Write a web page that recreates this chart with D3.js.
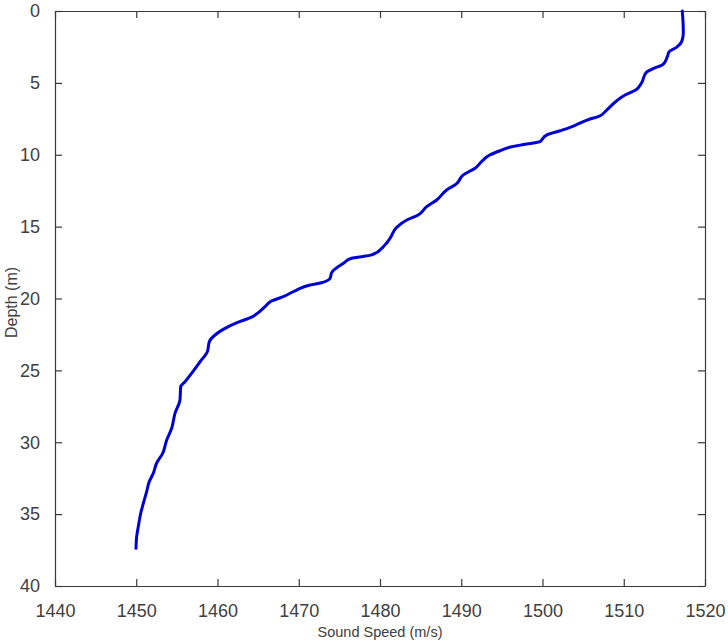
<!DOCTYPE html>
<html><head><meta charset="utf-8">
<script src="https://cdn.jsdelivr.net/npm/d3@7"></script>
<style>body{margin:0;background:#fff;} svg{display:block;}</style>
</head><body>
<svg id="chart" width="728" height="642"></svg>
<script>
const depth = [0.0,0.8,1.55,2.13,2.53,2.83,3.18,3.69,4.06,4.29,4.99,5.5,5.91,6.26,6.89,7.35,7.51,7.86,8.09,8.33,8.63,8.97,9.09,9.25,9.44,9.72,10.02,10.48,10.94,11.4,12.03,12.45,13.15,13.61,14.19,14.54,15.05,15.81,16.28,16.97,17.2,17.55,18.2,18.6,18.9,19.06,19.41,19.87,20.17,20.57,20.95,21.3,21.68,22.15,22.54,23.0,23.7,24.4,25.1,25.79,26.14,27.06,27.99,29.03,29.84,30.77,31.46,32.16,32.74,33.44,34.25,34.94,35.87,36.57,37.38];
const speed = [1517.2,1517.3,1517.33,1517.13,1516.5,1515.6,1515.36,1514.87,1513.44,1512.74,1512.2,1511.47,1509.95,1509.1,1507.9,1506.87,1505.85,1504.4,1503.4,1502.15,1500.5,1499.9,1499.7,1498.05,1496.2,1494.77,1493.5,1492.5,1491.7,1490.25,1489.4,1488.2,1486.98,1485.75,1484.7,1483.3,1482.05,1481.23,1480.6,1478.98,1476.5,1475.5,1474.05,1473.85,1472.8,1471.4,1469.74,1468.1,1466.67,1465.85,1465.1,1464.2,1462.4,1460.7,1459.7,1459.0,1458.75,1457.85,1456.95,1456.0,1455.47,1455.38,1454.77,1454.36,1453.75,1453.25,1452.5,1452.1,1451.6,1451.28,1450.87,1450.55,1450.25,1450.05,1449.97];
const xTicks = [1440,1450,1460,1470,1480,1490,1500,1510,1520];
const yTicks = [0,5,10,15,20,25,30,35,40];
const xLabel = "Sound Speed (m/s)";
const yLabel = "Depth (m)";

const L = 55, T = 11, W = 650, H = 575;
const svg = d3.select("#chart");
const x = d3.scaleLinear().domain([1440,1520]).range([L, L+W]);
const y = d3.scaleLinear().domain([0,40]).range([T, T+H]);
const axisCol = "#3a3a3a", textCol = "#404040";
const font = "'Liberation Sans', Arial, sans-serif";

function style(g){
  g.selectAll("path").attr("stroke", axisCol).attr("stroke-width",1.2);
  g.selectAll("line").attr("stroke", axisCol).attr("stroke-width",1.2);
  g.selectAll("text").attr("fill", textCol).attr("font-family", font).attr("font-size", 18);
}
svg.append("g").attr("transform",`translate(0,${T+H})`)
  .call(d3.axisBottom(x).tickValues(xTicks).tickSize(-7).tickPadding(18).tickSizeOuter(0).tickFormat(d3.format("d")))
  .call(style);
svg.append("g").attr("transform",`translate(0,${T})`)
  .call(d3.axisTop(x).tickValues(xTicks).tickSize(-7).tickSizeOuter(0).tickFormat(""))
  .call(style);
svg.append("g").attr("transform",`translate(${L},0)`)
  .call(d3.axisLeft(y).tickValues(yTicks).tickSize(-7).tickPadding(15).tickSizeOuter(0).tickFormat(d3.format("d")))
  .call(style);
svg.append("g").attr("transform",`translate(${L+W},0)`)
  .call(d3.axisRight(y).tickValues(yTicks).tickSize(-7).tickSizeOuter(0).tickFormat(""))
  .call(style);

const data = depth.map((d,i)=>({d, s: speed[i]}));
svg.append("path").datum(data)
  .attr("fill","none").attr("stroke","rgb(0,0,210)").attr("stroke-width",3)
  .attr("stroke-linejoin","round").attr("stroke-linecap","round")
  .attr("d", d3.line().x(p=>x(p.s)).y(p=>y(p.d)).curve(d3.curveMonotoneY));

svg.append("text").attr("x", L+W/2).attr("y", 637).attr("text-anchor","middle")
  .attr("font-family", font).attr("font-size", 14.5).attr("fill", textCol).text(xLabel);
svg.append("text").attr("transform",`translate(17,${T+H/2+4}) rotate(-90)`).attr("text-anchor","middle")
  .attr("font-family", font).attr("font-size", 16).attr("fill", textCol).text(yLabel);
</script>
</body></html>
